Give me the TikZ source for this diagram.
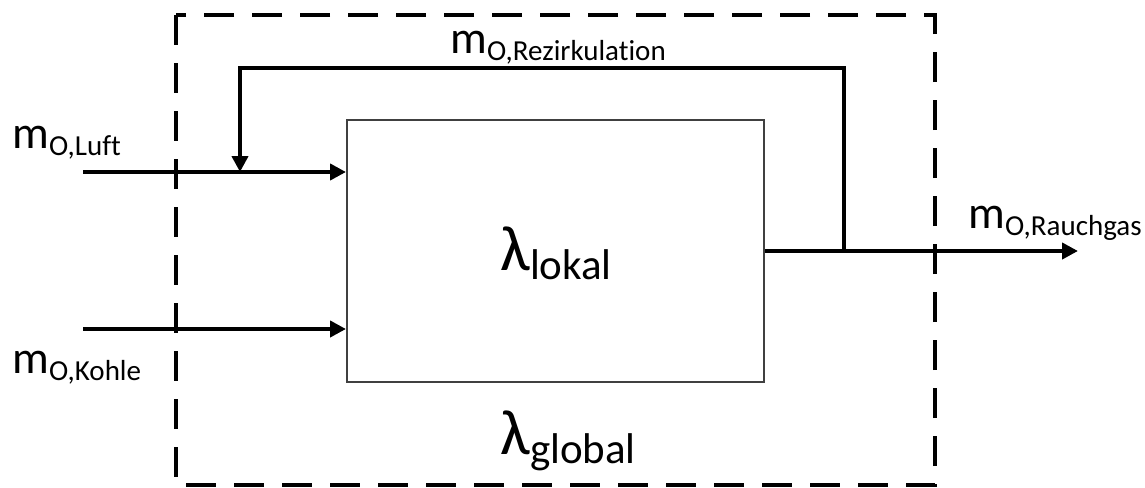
\documentclass[tikz,border=0pt]{standalone}
\usepackage{fontspec}
\setmainfont{Carlito}[Ligatures=NoCommon]
\usepackage{tikz}
\usetikzlibrary{arrows.meta}
\newcommand{\msub}[1]{{\fontsize{23}{28}\selectfont m}\raisebox{-3.5pt}{\fontsize{14.5}{17}\selectfont #1}}
\newcommand{\lsub}[1]{{\fontsize{32}{38}\selectfont λ}\raisebox{-4.5pt}{\fontsize{21.5}{26}\selectfont #1}}

\begin{document}
\begin{tikzpicture}[x=0.5pt,y=-0.5pt,
    flow/.style={line width=2pt,-{Triangle[length=8pt,width=8pt]}},
    reactor/.style={draw=black!75,line width=1pt,minimum width=208.5pt,minimum height=131pt,inner sep=0pt},
    boundary/.style={line width=2pt,dash pattern=on 15pt off 9pt},
    txt/.style={anchor=base west,inner sep=0pt}]
    \useasboundingbox (0,0) rectangle (1145,487);
    \draw[boundary] (176,15) rectangle (935,485);
    \node[reactor] (box) at (555.5,251) {};
    \coordinate (luftin) at (83,172);
    \coordinate (kohlein) at (83,329);
    \coordinate (mix) at (240,172);
    \coordinate (split) at (844,251);
    \coordinate (out) at (1078,251);
    \draw[flow] (luftin) -- (box.west |- luftin);
    \draw[flow] (kohlein) -- (box.west |- kohlein);
    \draw[flow] (split) -- ++(0,-183) -| (mix);
    \draw[flow] (box.east) -- (out);
    \node[txt] (luft) at (12,148) {\msub{O,Luft}};
    \node[txt] (kohle) at (12,373) {\msub{O,Kohle}};
    \node[txt] (rezirk) at (450,53) {\msub{O,Rezirkulation}};
    \node[txt] (rauch) at (968,228) {\msub{O,Rauchgas}};
    \node[txt] (lokal) at (500,270) {\lsub{lokal}};
    \node[txt] (global) at (500,454) {\lsub{global}};
\end{tikzpicture}
\end{document}
